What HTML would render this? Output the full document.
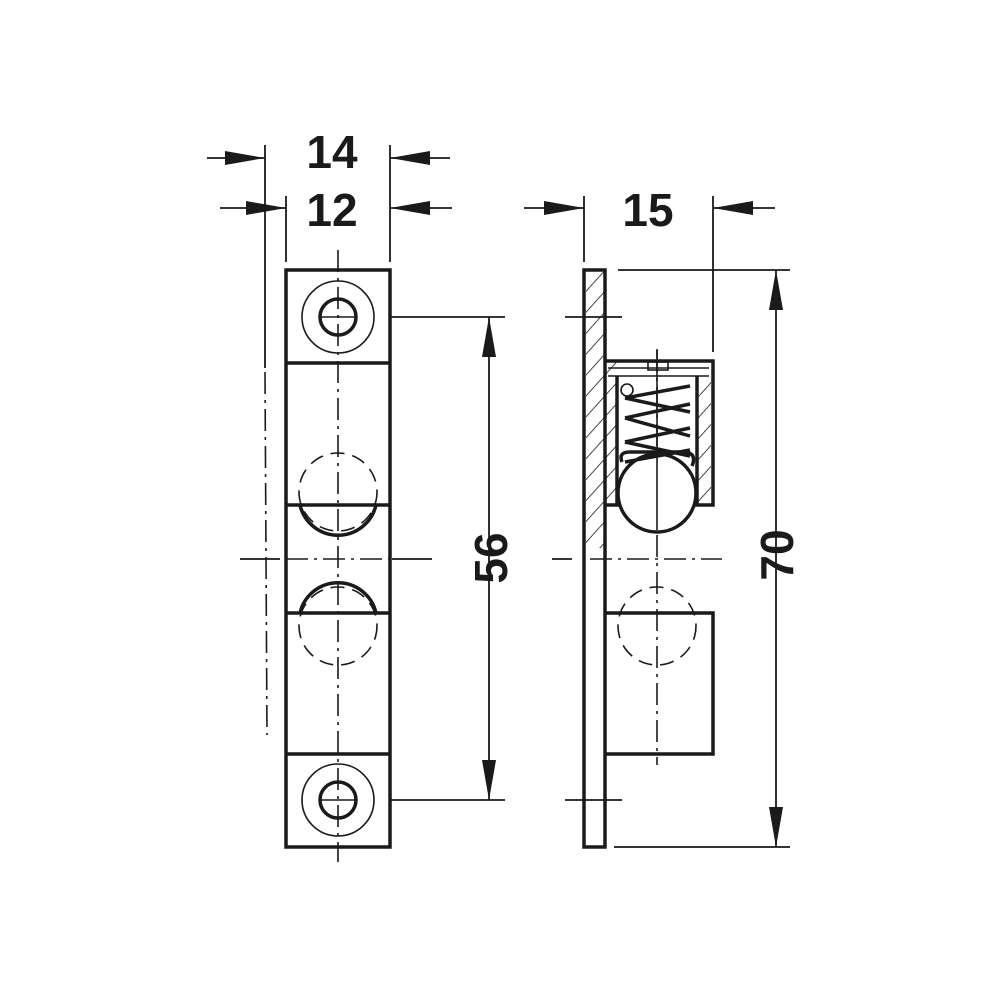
<!DOCTYPE html>
<html><head><style>html,body{margin:0;padding:0;background:#fff}svg{display:block}</style></head>
<body>
<svg width="1000" height="1000" viewBox="0 0 1000 1000" xmlns="http://www.w3.org/2000/svg">
<defs>
<pattern id="h" patternUnits="userSpaceOnUse" width="14" height="14" patternTransform="rotate(42)">
<line x1="0" y1="0" x2="0" y2="14" stroke="#1a1a1a" stroke-width="1.6"/>
</pattern>
</defs>
<g fill="#1a1a1a" stroke="none" font-family="Liberation Sans, sans-serif" font-weight="bold" font-size="46">
<text x="332" y="168" text-anchor="middle">14</text>
<text x="332" y="226" text-anchor="middle">12</text>
<text x="648" y="226" text-anchor="middle">15</text>
<text transform="translate(507,558) rotate(-90)" text-anchor="middle">56</text>
<text transform="translate(793,555) rotate(-90)" text-anchor="middle">70</text>
<polygon points="265,158 225,151 225,165"/>
<polygon points="390,158 430,151 430,165"/>
<polygon points="286,208 246,201 246,215"/>
<polygon points="390,208 430,201 430,215"/>
<polygon points="584,208 544,201 544,215"/>
<polygon points="713,208 753,201 753,215"/>
<polygon points="489,317 482,357 496,357"/>
<polygon points="489,800 482,760 496,760"/>
<polygon points="776,270 769,310 783,310"/>
<polygon points="776,847 769,807 783,807"/>
</g>
<g stroke="#1a1a1a" stroke-width="1.8" fill="none">
<line x1="207" y1="158" x2="265" y2="158"/><line x1="390" y1="158" x2="450" y2="158"/>
<line x1="220" y1="208" x2="286" y2="208"/><line x1="390" y1="208" x2="452" y2="208"/>
<line x1="524" y1="208" x2="584" y2="208"/><line x1="713" y1="208" x2="775" y2="208"/>
<line x1="265" y1="145" x2="265" y2="368"/><line x1="286" y1="196" x2="286" y2="262"/><line x1="390" y1="145" x2="390" y2="262"/>
<line x1="584" y1="196" x2="584" y2="262"/><line x1="713" y1="196" x2="713" y2="352"/>
<line x1="489" y1="317" x2="489" y2="800"/><line x1="390" y1="317" x2="505" y2="317"/><line x1="390" y1="800" x2="505" y2="800"/>
<line x1="776" y1="270" x2="776" y2="847"/><line x1="618" y1="270" x2="790" y2="270"/><line x1="614" y1="847" x2="790" y2="847"/>
<line x1="565" y1="317" x2="622" y2="317"/><line x1="565" y1="800" x2="622" y2="800"/>
<line x1="240" y1="559" x2="280" y2="559"/><line x1="392" y1="559" x2="432" y2="559"/>
<line x1="552" y1="559" x2="572" y2="559"/>
</g>
<g stroke="#1a1a1a" stroke-width="1.6" fill="none" stroke-dasharray="22,6,3,6">
<line x1="265" y1="372" x2="267" y2="735"/>
<line x1="338" y1="250" x2="338" y2="862"/>
<line x1="286" y1="559" x2="390" y2="559"/>
<line x1="657" y1="350" x2="657" y2="765"/>
<line x1="590" y1="559" x2="722" y2="559"/>
</g>
<g stroke="#1a1a1a" stroke-width="3.5" fill="none">
<rect x="286" y="270" width="104" height="577"/>
<line x1="286" y1="363" x2="390" y2="363"/>
<line x1="286" y1="754" x2="390" y2="754"/>
<line x1="286" y1="505" x2="390" y2="505"/>
<line x1="286" y1="613" x2="390" y2="613"/>
<circle cx="338" cy="317" r="18"/>
<circle cx="338" cy="800" r="18"/>
<path d="M300,505 A39,39 0 0 0 376,505"/>
<path d="M300,613 A39,39 0 0 1 376,613"/>
</g>
<g stroke="#1a1a1a" stroke-width="1.6" fill="none">
<circle cx="338" cy="317" r="36"/>
<circle cx="338" cy="800" r="36"/>
<line x1="320" y1="317" x2="356" y2="317"/><line x1="320" y1="800" x2="356" y2="800"/>
<circle cx="338" cy="492" r="39" stroke-dasharray="14,8"/>
<circle cx="338" cy="626" r="39" stroke-dasharray="14,8"/>
<circle cx="657" cy="626" r="39" stroke-dasharray="14,8"/>
</g>
<path d="M586,272 H604 V361 H617 V505 H604 V548 H586 Z" fill="url(#h)"/>
<path d="M697,376 H711 V503 H697 Z" fill="url(#h)"/>
<g stroke="#1a1a1a" stroke-width="3.5" fill="none">
<rect x="584" y="270" width="21" height="577"/>
<path d="M605,361 H713 V505 H605"/>
<path d="M605,613 H713 V754 H605"/>
<line x1="617" y1="376" x2="617" y2="505"/>
<line x1="697" y1="376" x2="697" y2="505"/>
<circle cx="657" cy="493" r="39" fill="#fff"/>
<path d="M625,398 L690,386 M625,418 L690,404 M625,442 L690,428 M625,462 L690,450"/>
<path d="M625,398 L690,412 M625,418 L690,436 M625,442 L690,456"/>
<path d="M622,462 Q618,452 630,452 L686,452 Q697,454 692,466"/>
</g>
<g stroke="#1a1a1a" stroke-width="1.6" fill="none">
<line x1="608" y1="376" x2="709" y2="376"/>
<line x1="608" y1="368" x2="709" y2="368"/>
<rect x="648" y="362" width="20" height="8"/>
<circle cx="627" cy="390" r="6"/>
<line x1="657" y1="349" x2="657" y2="530"/>
</g>
</svg>
</body></html>
